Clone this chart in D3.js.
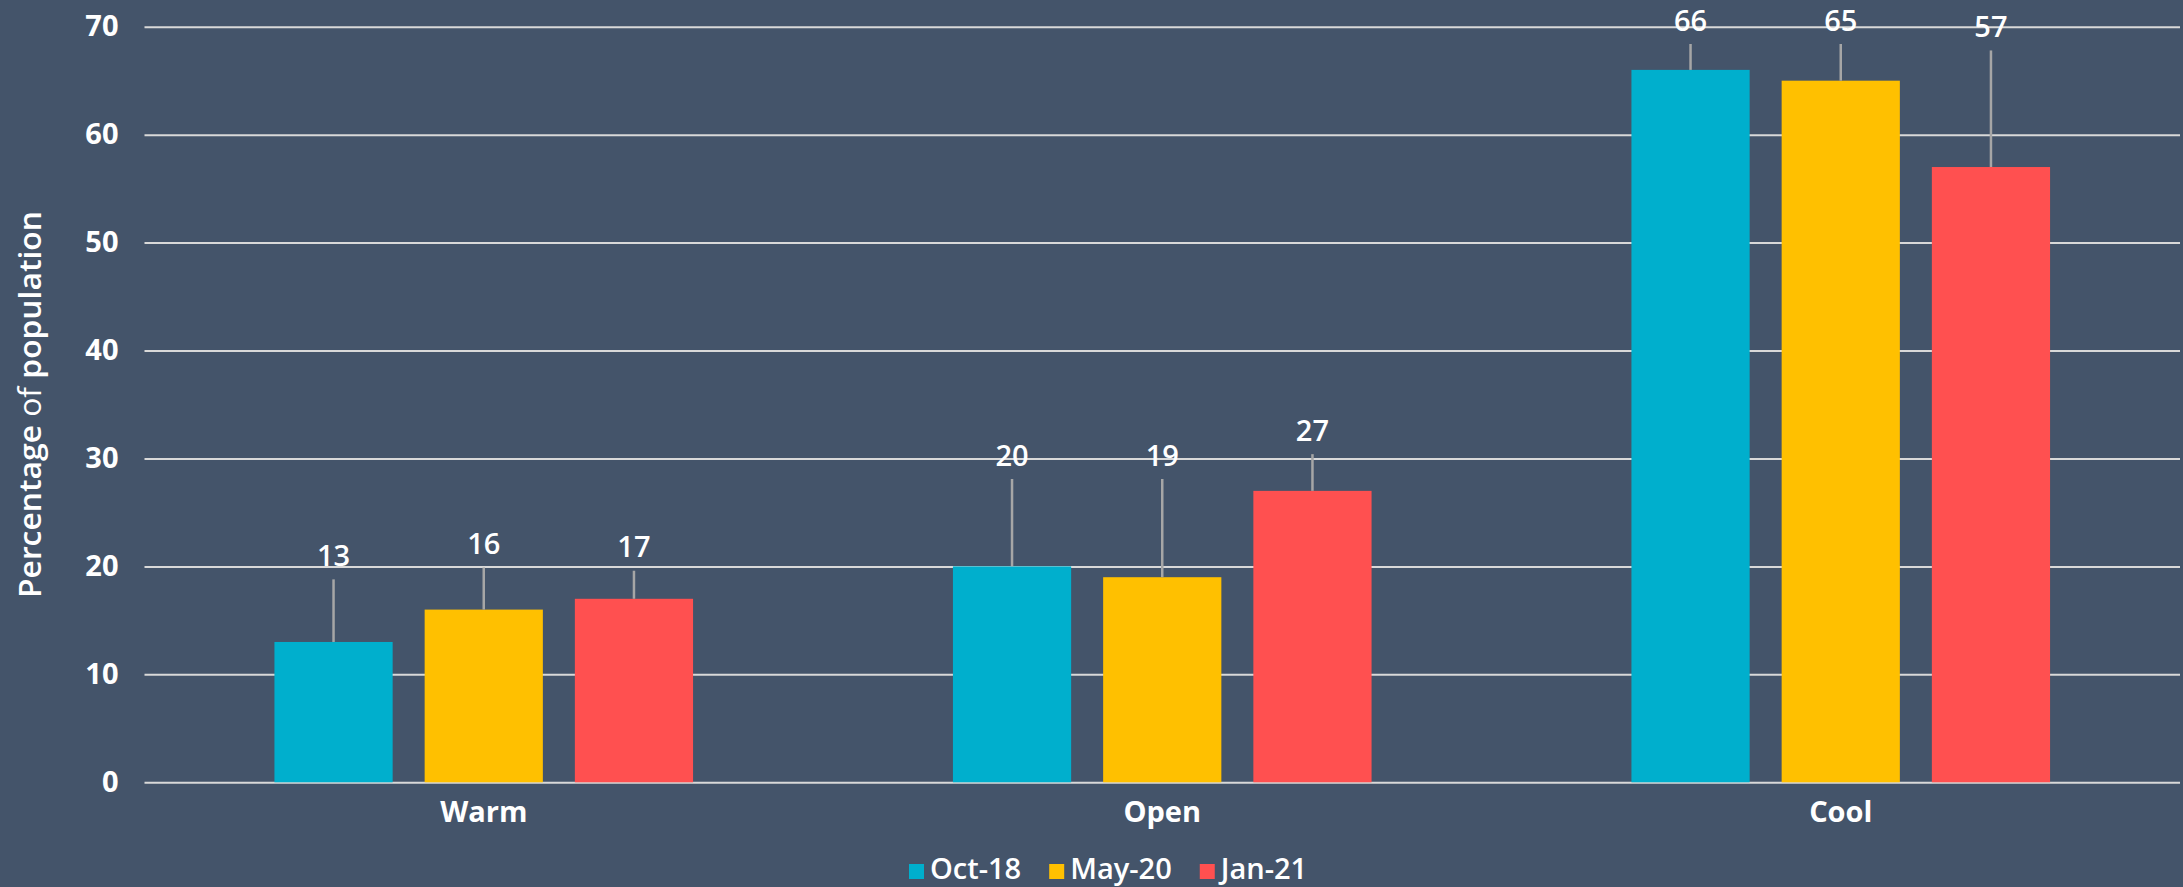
<!DOCTYPE html>
<html>
<head>
<meta charset="utf-8">
<script src="https://cdn.jsdelivr.net/npm/d3@7"></script>
<style>
  html, body { margin: 0; padding: 0; background: #44546a; }
  #chart { width: 2183px; height: 887px; }
  text { font-family: "Open Sans", "Noto Sans", sans-serif; fill: #ffffff; }
</style>
</head>
<body>
<div id="chart"></div>
<script>
var categories = ["Warm", "Open", "Cool"];
var seriesNames = ["Oct-18", "May-20", "Jan-21"];
var seriesColors = ["#00afcd", "#ffc000", "#ff5050"];

var oct18 = [13, 20, 66];
var may20 = [16, 19, 65];
var jan21 = [17, 27, 57];

// upper ends of the error whiskers
var oct18Upper = [18.8, 28.1, 68.4];
var may20Upper = [19.9, 28.1, 68.4];
var jan21Upper = [19.6, 30.4, 67.8];

var yTicks = [0, 10, 20, 30, 40, 50, 60, 70];

(function() {
  "use strict";

  var width = 2183;
  var height = 887;
  var margin = { left: 144.5, right: 3, top: 26.7, bottom: 104.7 };

  var values = [oct18, may20, jan21];
  var uppers = [oct18Upper, may20Upper, jan21Upper];

  var rows = [];
  categories.forEach(function(cat, ci) {
    seriesNames.forEach(function(s, si) {
      rows.push({
        category: cat,
        series: s,
        value: values[si][ci],
        upper: uppers[si][ci],
        color: seriesColors[si]
      });
    });
  });

  function rowsFor(cat) {
    return rows.filter(function(r) { return r.category === cat; });
  }

  var svg = d3.select("#chart")
    .append("svg")
    .attr("width", width)
    .attr("height", height);

  svg.append("rect")
    .attr("width", width)
    .attr("height", height)
    .attr("fill", "#44546a");

  var x0 = d3.scaleBand()
    .domain(categories)
    .range([margin.left, width - margin.right])
    .paddingInner(0.383)
    .paddingOuter(0.1915);

  var x1 = d3.scaleBand()
    .domain(seriesNames)
    .range([0, x0.bandwidth()])
    .paddingInner(0.213)
    .paddingOuter(0);

  var y = d3.scaleLinear()
    .domain([0, 70])
    .range([height - margin.bottom, margin.top]);

  /* ------- GRID + Y AXIS -------*/

  var yAxis = d3.axisLeft(y)
    .tickValues(yTicks)
    .tickSize(-(width - margin.left - margin.right))
    .tickPadding(26);

  var yAxisG = svg.append("g")
    .attr("transform", "translate(" + margin.left + ",0)")
    .call(yAxis);

  yAxisG.select(".domain").remove();
  yAxisG.selectAll(".tick line")
    .attr("stroke", "#d9d9d9")
    .attr("stroke-width", 2);
  yAxisG.selectAll(".tick text")
    .attr("font-family", "'Open Sans', sans-serif")
    .attr("font-weight", 700)
    .attr("font-size", 29)
    .attr("dy", "0.3em")
    .style("fill", "#ffffff");

  /* ------- BARS -------*/

  var groups = svg.append("g")
    .selectAll("g")
    .data(categories)
    .enter()
    .append("g")
    .attr("transform", function(d) {
      return "translate(" + x0(d) + ",0)";
    });

  groups.selectAll("rect")
    .data(rowsFor)
    .enter()
    .append("rect")
    .attr("x", function(d) { return x1(d.series); })
    .attr("y", function(d) { return y(d.value); })
    .attr("width", x1.bandwidth())
    .attr("height", function(d) { return y(0) - y(d.value); })
    .attr("fill", function(d) { return d.color; });

  // whiskers
  groups.selectAll("line.err")
    .data(rowsFor)
    .enter()
    .append("line")
    .attr("class", "err")
    .attr("x1", function(d) { return x1(d.series) + x1.bandwidth() / 2; })
    .attr("x2", function(d) { return x1(d.series) + x1.bandwidth() / 2; })
    .attr("y1", function(d) { return y(d.value); })
    .attr("y2", function(d) { return y(d.upper); })
    .attr("stroke", "#a6a6a6")
    .attr("stroke-width", 2.5);

  groups.selectAll("text.val")
    .data(rowsFor)
    .enter()
    .append("text")
    .attr("class", "val")
    .attr("x", function(d) { return x1(d.series) + x1.bandwidth() / 2; })
    .attr("y", function(d) { return y(d.upper) - 13.3; })
    .attr("text-anchor", "middle")
    .attr("font-size", 29)
    .attr("font-weight", 600)
    .text(function(d) { return d.value; });

  /* ------- X AXIS LABELS -------*/

  var xAxis = d3.axisBottom(x0).tickSize(0).tickPadding(19);
  var xAxisG = svg.append("g")
    .attr("transform", "translate(0," + y(0) + ")")
    .call(xAxis);
  xAxisG.select(".domain").remove();
  xAxisG.selectAll(".tick text")
    .attr("font-family", "'Open Sans', sans-serif")
    .attr("font-weight", 700)
    .attr("font-size", 29)
    .style("fill", "#ffffff");

  /* ------- Y TITLE -------*/

  var title = svg.append("text")
    .attr("transform", "translate(41," + (y(0) + y(70)) / 2 + ") rotate(-90)")
    .attr("text-anchor", "middle")
    .attr("font-size", 31)
    .attr("textLength", 387)
    .attr("lengthAdjust", "spacingAndGlyphs");
  title.append("tspan").attr("font-weight", 600).text("Percentage ");
  title.append("tspan").attr("font-weight", 400).text("of ");
  title.append("tspan").attr("font-weight", 600).text("population");

  /* ------- LEGEND -------*/

  var legend = svg.append("g")
    .attr("transform", "translate(909,864)");
  var lx = 0;
  seriesNames.forEach(function(name, i) {
    var item = legend.append("g").attr("transform", "translate(" + lx + ",0)");
    item.append("rect")
      .attr("width", 15)
      .attr("height", 15)
      .attr("fill", seriesColors[i]);
    var t = item.append("text")
      .attr("x", 21)
      .attr("y", 15)
      .attr("font-size", 29)
      .attr("font-weight", 600)
      .text(name);
    lx += 21 + t.node().getComputedTextLength() + 28;
  });
})();
</script>
</body>
</html>
